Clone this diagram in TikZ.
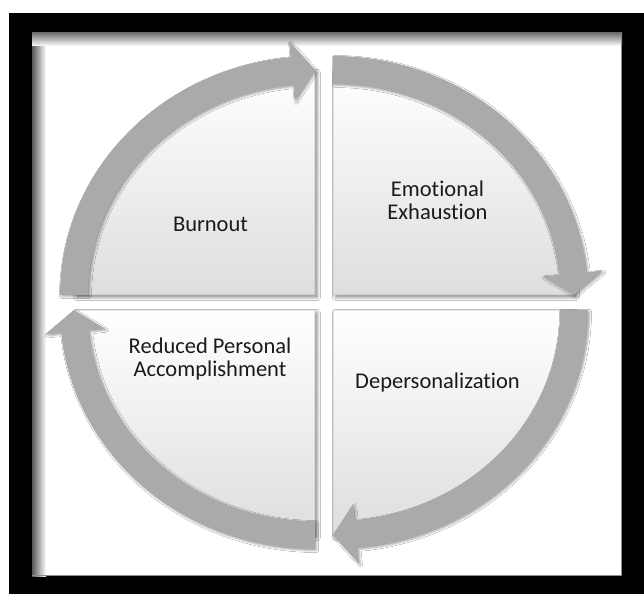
\documentclass[tikz,border=0pt]{standalone}
\usepackage{fontspec}
\setmainfont{Carlito}[RawFeature={-liga}]
\usetikzlibrary{shadows.blur}

\definecolor{arrowgray}{HTML}{AAAAAA}
\definecolor{textgray}{HTML}{1A1A1A}

\tikzset{
  quadpie/.style={top color=white, middle color=white, bottom color=black!13,
    draw=black!28, line width=0.8pt,
    blur shadow={shadow xshift=2.5pt, shadow yshift=-2.5pt,
      shadow blur radius=3pt, shadow opacity=45}},
  cyclearrow/.style={fill=arrowgray,
    blur shadow={shadow xshift=1.5pt, shadow yshift=-1.5pt,
      shadow blur radius=2pt, shadow opacity=35}},
  quadtext/.style={font=\fontsize{22.5}{23}\selectfont, text=textgray,
    align=center, inner sep=0pt},
}

% quarter-ellipse segment: centre, start angle, end angle
\newcommand{\drawquadrant}[3]{%
  \path[quadpie, shift={(#1)}] (0pt,0pt) -- (#2:241pt and 225pt)
    arc[start angle=#2, end angle=#3, x radius=241pt, y radius=225pt] -- cycle;}

% curved block arrow: centre, tail angle, head-base angle, tip angle
\newcommand{\drawcyclearrow}[4]{%
  \path[cyclearrow, shift={(#1)}]
    (#2:255pt and 239pt)
    arc[start angle=#2, end angle=#3, x radius=255pt, y radius=239pt]
    -- (#3:271pt and 255pt) -- (#4:241pt and 225pt) -- (#3:211pt and 195pt)
    -- (#3:227pt and 211pt)
    arc[start angle=#3, end angle=#2, x radius=227pt, y radius=211pt] -- cycle;}

\begin{document}
\begin{tikzpicture}[x=1pt, y=1pt]
  \useasboundingbox (0pt,0pt) rectangle (644pt,594pt);
  \fill[white] (0pt,0pt) rectangle (644pt,594pt);

  % black frame with inner shadow
  \fill[black] (9pt,0pt) rectangle (644pt,581pt);
  \fill[white] (32pt,18pt) rectangle (622pt,561pt);
  \shade[left color=black!65, right color=white] (32pt,18pt) rectangle (46pt,561pt);
  \shade[top color=black!55, bottom color=white] (32pt,548pt) rectangle (622pt,561pt);
  \draw[black!45, line width=1.2pt] (621.4pt,18pt) -- (621.4pt,561pt);
  \draw[black!45, line width=1.2pt] (32pt,18.6pt) -- (622pt,18.6pt);

  % quadrant segments
  \coordinate (ctl) at (315pt,299pt);
  \coordinate (ctr) at (333pt,299pt);
  \coordinate (cbr) at (333pt,284pt);
  \coordinate (cbl) at (315pt,284pt);
  \drawquadrant{ctl}{180}{90}
  \drawquadrant{ctr}{90}{0}
  \drawquadrant{cbr}{0}{-90}
  \drawquadrant{cbl}{270}{180}

  % clockwise arrows
  \drawcyclearrow{ctl}{180}{95.5}{90}
  \drawcyclearrow{ctr}{90}{5.5}{0}
  \drawcyclearrow{cbr}{0}{-84.5}{-90}
  \drawcyclearrow{cbl}{270}{185.5}{180}

  % labels
  \node[quadtext, anchor=base] (burnout) at (210.5pt,362pt) {Burnout};
  \node[quadtext, anchor=base] (exhaustion) at (437.5pt,374pt) {Emotional\\Exhaustion};
  \node[quadtext, anchor=base] (depersonal) at (437.5pt,205pt) {Depersonalization};
  \node[quadtext, anchor=base] (reduced) at (210pt,217pt) {Reduced Personal\\Accomplishment};
\end{tikzpicture}
\end{document}
